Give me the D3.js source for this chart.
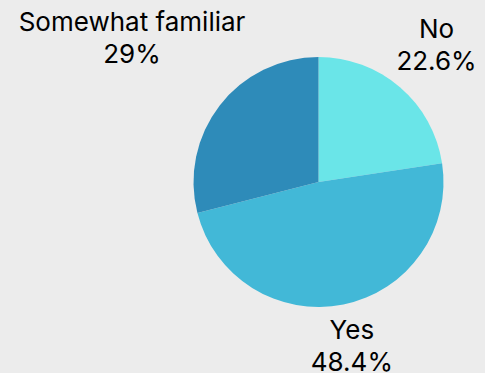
<!DOCTYPE html>
<html>
<head>
<meta charset="utf-8">
<script src="https://cdn.jsdelivr.net/npm/d3@7"></script>
<style>
  html, body { margin: 0; padding: 0; background: #ececec; }
  svg { display: block; }
</style>
</head>
<body>
<svg id="chart" width="485" height="373"></svg>
<script>
// Survey answers, drawn clockwise from 12 o'clock
const categories = ["No", "Yes", "Somewhat familiar"];
const shares = [22.6, 48.4, 29];
const shareLabels = ["22.6%", "48.4%", "29%"];

const colors = d3.scaleOrdinal()
  .domain(categories)
  .range(["#6ae5e8", "#42b8d7", "#2e8bb9"]);

// distance from the pie centre to the middle of each label block
const labelDistance = { "No": 181, "Yes": 167, "Somewhat familiar": 236 };

const width = 485, height = 373;
const cx = 318.5, cy = 182, radius = 125;

const svg = d3.select("#chart");
svg.append("rect").attr("width", width).attr("height", height).attr("fill", "#ececec");

const g = svg.append("g").attr("transform", `translate(${cx},${cy})`);

const rows = categories.map((c, i) => ({ name: c, value: shares[i], label: shareLabels[i] }));
const pie = d3.pie().sort(null).value(d => d.value);
const arcs = pie(rows);
const arc = d3.arc().innerRadius(0).outerRadius(radius);

g.selectAll("path.slice")
  .data(arcs)
  .join("path")
  .attr("class", "slice")
  .attr("d", arc)
  .attr("fill", d => colors(d.data.name));

// two-line labels outside the pie, centred on each slice's mid-angle
const fontSize = 26, lineGap = 32, capH = 18.5;
const labels = g.selectAll("text.lbl")
  .data(arcs)
  .join("text")
  .attr("class", "lbl")
  .attr("text-anchor", "middle")
  .attr("font-family", "Inter, 'Open Sans', sans-serif")
  .attr("font-size", fontSize)
  .attr("fill", "#000")
  .each(function (d) {
    const mid = (d.startAngle + d.endAngle) / 2;
    const r = labelDistance[d.data.name];
    const x = Math.sin(mid) * r;
    const y = -Math.cos(mid) * r;
    const top = y - (lineGap + capH) / 2 + capH;
    const t = d3.select(this);
    t.append("tspan").attr("x", x).attr("y", top).text(d.data.name);
    t.append("tspan").attr("x", x).attr("y", top + lineGap).text(d.data.label);
  });
</script>
</body>
</html>
